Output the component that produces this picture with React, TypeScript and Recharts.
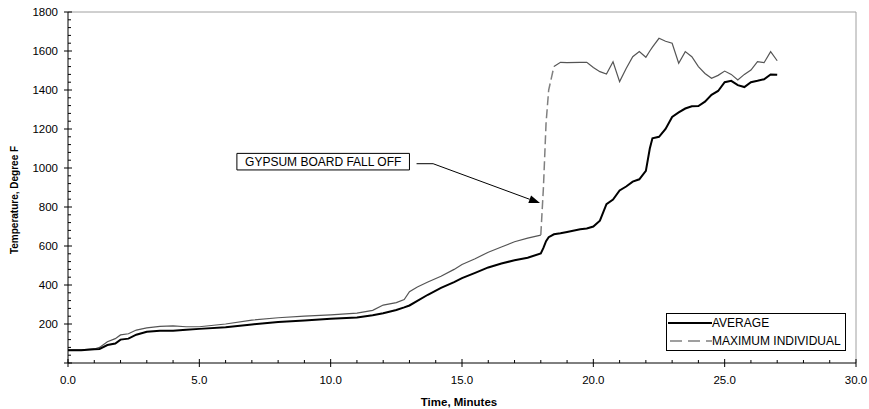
import React from 'react';
import { LineChart, Line, XAxis, YAxis, ReferenceLine, ReferenceArea, Label } from 'recharts';

// time in minutes
const time = [
  0, 0.5, 1.0, 1.2, 1.5, 1.8, 2.0, 2.3, 2.6, 3.0, 3.5, 4.0, 4.5, 5.0, 6.0, 7.0, 8.0, 9.0, 10.0,
  11.0, 11.6, 12.0, 12.5, 12.8, 13.0, 13.3, 13.7, 14.2, 14.7, 15.0, 15.5, 16.0, 16.5, 17.0, 17.5,
  18.0, 18.1, 18.2, 18.3, 18.5, 18.75, 19.0, 19.5, 19.75, 20.0, 20.25, 20.5, 20.75, 21.0, 21.25,
  21.5, 21.75, 22.0, 22.15, 22.25, 22.5, 22.75, 23.0, 23.25, 23.5, 23.75, 24.0, 24.25, 24.5, 24.75,
  25.0, 25.25, 25.5, 25.75, 26.0, 26.25, 26.5, 26.75, 27.0,
];

const average = [
  65, 66, 70, 72, 92, 100, 120, 125, 145, 160, 165, 166, 170, 175, 183, 198, 210, 218, 227,
  233, 245, 255, 272, 285, 295, 318, 350, 385, 415, 435, 462, 490, 510, 527, 540,
  562, 590, 625, 645, 660, 665, 672, 686, 690, 700, 730, 815, 838, 885, 905,
  930, 942, 985, 1100, 1152, 1160, 1200, 1262, 1285, 1305, 1317, 1318, 1340, 1375, 1395,
  1440, 1447, 1425, 1415, 1440, 1447, 1455, 1480, 1478,
];

const maxIndividual = [
  67, 68, 72, 80, 109, 125, 144, 150, 169, 180, 188, 190, 186, 186, 200, 220, 232, 240, 247,
  256, 270, 297, 310, 325, 366, 390, 415, 445, 480, 505, 535, 568, 595, 622, 640,
  656, 900, 1230, 1400, 1520, 1542, 1540, 1542, 1542, 1515, 1494, 1482, 1545, 1443, 1510,
  1571, 1597, 1568, 1600, 1620, 1665, 1650, 1640, 1537, 1597, 1571, 1520, 1485, 1460, 1475,
  1497, 1480, 1451, 1480, 1502, 1545, 1540, 1597, 1550,
];

// board falls off between these times: that stretch is drawn dashed
const JUMP_START = 18.0;
const JUMP_END = 18.5;

const xTicks = Array.from({ length: 31 }, (_, i) => i);
const yTicks = Array.from({ length: 46 }, (_, i) => i * 40);

const data = time.map((t, i) => ({
  t,
  avg: average[i],
  max: t <= JUMP_START || t >= JUMP_END ? maxIndividual[i] : null,
  jump: t >= JUMP_START && t <= JUMP_END ? maxIndividual[i] : null,
}));

const FONT = '"Liberation Sans", Arial, sans-serif';

const XTick = (props: any) => {
  const { x, y, payload } = props;
  const v = payload.value as number;
  const major = v % 5 === 0;
  return (
    <g>
      <line x1={x} x2={x} y1={y - (major ? 4 : 3)} y2={major ? y + 4 : y} stroke="#000" />
      {major && (
        <text x={x} y={y + 21} textAnchor="middle" fontSize={11.5} fill="#000">
          {v.toFixed(1)}
        </text>
      )}
    </g>
  );
};

const YTick = (props: any) => {
  const { x, y, payload } = props;
  const v = payload.value as number;
  const major = v % 200 === 0;
  return (
    <g>
      <line x1={major ? x - 4 : x} x2={x + (major ? 4 : 3)} y1={y} y2={y} stroke="#000" />
      {major && v > 0 && (
        <text x={x - 10} y={y + 4} textAnchor="end" fontSize={11.5} fill="#000">
          {v}
        </text>
      )}
    </g>
  );
};

const YTitle = () => (
  <text
    transform="translate(18,200) rotate(-90)"
    textAnchor="middle"
    fontSize={10}
    fontWeight="bold"
    fill="#000"
  >
    Temperature, Degree F
  </text>
);

const XTitle = () => (
  <text x={459} y={406} textAnchor="middle" fontSize={11.5} fontWeight="bold" fill="#000">
    Time, Minutes
  </text>
);

const Arrow = (p: any) => {
  const { x1, y1, x2, y2 } = p;
  const a = Math.atan2(y2 - y1, x2 - x1);
  const len = 11;
  const w = 4;
  const bx = x2 - len * Math.cos(a);
  const by = y2 - len * Math.sin(a);
  const pts = [
    `${x2},${y2}`,
    `${bx + w * Math.sin(a)},${by - w * Math.cos(a)}`,
    `${bx - w * Math.sin(a)},${by + w * Math.cos(a)}`,
  ].join(' ');
  return (
    <g>
      <line x1={x1} y1={y1} x2={bx} y2={by} stroke="#000" strokeWidth={1} />
      <polygon points={pts} fill="#000" />
    </g>
  );
};

const LegendBox = () => (
  <div
    style={{
      position: 'absolute',
      left: 666,
      top: 313,
      width: 178,
      height: 36,
      border: '1px solid #000',
      background: '#fff',
      fontSize: 12,
      color: '#000',
      lineHeight: '18px',
    }}
  >
    <div style={{ display: 'flex', alignItems: 'center', height: 18 }}>
      <svg width={44} height={18} style={{ marginLeft: 1 }}>
        <line x1={0} x2={44} y1={9} y2={9} stroke="#000" strokeWidth={2} />
      </svg>
      <span>AVERAGE</span>
    </div>
    <div style={{ display: 'flex', alignItems: 'center', height: 18 }}>
      <svg width={44} height={18} style={{ marginLeft: 1 }}>
        <line x1={2} x2={44} y1={9} y2={9} stroke="#808080" strokeWidth={1.3} strokeDasharray="12 6" />
      </svg>
      <span>MAXIMUM INDIVIDUAL</span>
    </div>
  </div>
);

export default function App() {
  return (
    <div
      style={{
        position: 'absolute',
        left: 0,
        top: 0,
        width: 869,
        height: 409,
        background: '#fff',
        fontFamily: FONT,
      }}
    >
      <LineChart width={869} height={409} data={data} margin={{ top: 12, right: 13, bottom: 0, left: 0 }}>
        <XAxis
          dataKey="t"
          type="number"
          domain={[0, 30]}
          ticks={xTicks}
          interval={0}
          tick={(p: any) => <XTick {...p} />}
          tickLine={false}
          tickSize={0}
          tickMargin={0}
          axisLine={{ stroke: '#000' }}
          height={46}
        >
          <Label content={XTitle} />
        </XAxis>
        <YAxis
          type="number"
          domain={[0, 1800]}
          ticks={yTicks}
          interval={0}
          tick={(p: any) => <YTick {...p} />}
          tickLine={false}
          tickSize={0}
          tickMargin={0}
          axisLine={{ stroke: '#000' }}
          width={68}
        >
          <Label content={YTitle} />
        </YAxis>
        <ReferenceLine y={1800} stroke="#a0a0a0" />
        <ReferenceLine x={30} stroke="#a0a0a0" />
        <ReferenceArea
          x1={6.43}
          x2={13.0}
          y1={990}
          y2={1075}
          fill="#fff"
          fillOpacity={1}
          stroke="#000"
          strokeOpacity={1}
          label={{ value: 'GYPSUM BOARD FALL OFF', position: 'center', fill: '#000', fontSize: 12 }}
        />
        <ReferenceLine
          segment={[
            { x: 13.27, y: 1022 },
            { x: 13.9, y: 1022 },
          ]}
          stroke="#000"
        />
        <ReferenceLine
          segment={[
            { x: 13.9, y: 1022 },
            { x: 17.97, y: 820 },
          ]}
          shape={Arrow}
        />
        <Line
          dataKey="max"
          type="linear"
          stroke="#555"
          strokeWidth={1.2}
          dot={false}
          isAnimationActive={false}
        />
        <Line
          dataKey="jump"
          type="linear"
          stroke="#808080"
          strokeWidth={1.5}
          strokeDasharray="9 4"
          dot={false}
          isAnimationActive={false}
        />
        <Line
          dataKey="avg"
          type="linear"
          stroke="#000"
          strokeWidth={2}
          dot={false}
          isAnimationActive={false}
        />
      </LineChart>
      <LegendBox />
    </div>
  );
}
